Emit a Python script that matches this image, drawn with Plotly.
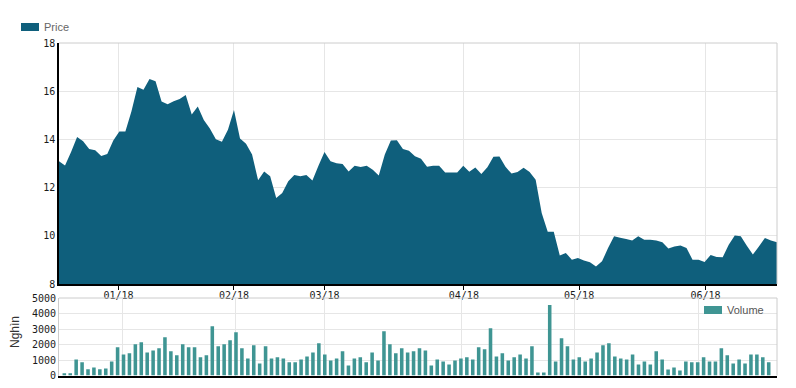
import plotly.graph_objects as go

# ---- data ----
price = [13.09, 12.92, 13.48, 14.10, 13.92, 13.60, 13.55, 13.31, 13.39, 13.95,
         14.33, 14.33, 15.16, 16.17, 16.06, 16.51, 16.41, 15.57, 15.46, 15.58,
         15.68, 15.84, 15.03, 15.37, 14.80, 14.45, 14.01, 13.90, 14.40, 15.22,
         14.04, 13.82, 13.37, 12.31, 12.67, 12.47, 11.57, 11.78, 12.26, 12.52,
         12.47, 12.52, 12.29, 12.91, 13.48, 13.09, 13.01, 12.98, 12.67, 12.91,
         12.85, 12.91, 12.74, 12.50, 13.37, 13.95, 13.96, 13.60, 13.53, 13.30,
         13.20, 12.87, 12.91, 12.91, 12.63, 12.63, 12.63, 12.91, 12.66, 12.83,
         12.56, 12.84, 13.28, 13.29, 12.86, 12.58, 12.65, 12.82, 12.65, 12.33,
         10.95, 10.17, 10.17, 9.18, 9.29, 9.01, 9.08, 8.98, 8.90, 8.73,
         8.94, 9.49, 9.98, 9.92, 9.87, 9.81, 9.98, 9.84, 9.84, 9.80,
         9.73, 9.47, 9.56, 9.60, 9.49, 9.01, 9.01, 8.91, 9.20, 9.12,
         9.11, 9.63, 10.01, 9.98, 9.59, 9.22, 9.56, 9.91, 9.81, 9.73]

volume = [150, 150, 1040, 850, 400, 520, 400, 450, 900, 1820,
          1360, 1430, 2010, 2140, 1490, 1620, 1750, 2470, 1560, 1300,
          2010, 1820, 1820, 1170, 1300, 3180, 1880, 2010, 2270, 2790,
          1750, 1100, 1950, 780, 1880, 1100, 1170, 1100, 850, 850,
          1040, 1230, 1490, 2080, 1360, 970, 1100, 1560, 650, 1100,
          1170, 850, 1490, 970, 2860, 2010, 1430, 1750, 1490, 1560,
          1750, 1620, 650, 1040, 910, 710, 970, 1100, 1170, 1040,
          1820, 1690, 3050, 1230, 1430, 970, 1170, 1360, 1100, 1880,
          190, 190, 4550, 910, 2400, 1880, 1040, 1170, 910, 1100,
          1490, 1950, 2080, 1230, 1100, 1040, 1360, 710, 910, 710,
          1560, 1040, 390, 520, 325, 910, 850, 850, 1170, 910,
          910, 1750, 1300, 780, 1040, 780, 1360, 1360, 1170, 850]

day_index = list(range(len(price)))
month_tick_pos = [9.85, 29.0, 44.0, 67.1, 86.2, 107.15]
month_tick_labels = ["01/18", "02/18", "03/18", "04/18", "05/18", "06/18"]

PRICE_COLOR = "#0f5f7c"
VOL_COLOR = "#3f9593"
GRID = "#e6e6e6"

W, H = 796, 388
def px(x):
    return x / W
def py(y):
    return 1 - y / H

fig = go.Figure()
fig.add_trace(go.Scatter(x=day_index, y=price, mode="none", fill="tozeroy",
                         fillcolor=PRICE_COLOR, name="Price",
                         xaxis="x", yaxis="y", showlegend=False,
                         hoverinfo="x+y"))
fig.add_trace(go.Bar(x=day_index, y=volume, name="Volume", width=0.6,
                     marker=dict(color=VOL_COLOR, line=dict(width=0)),
                     xaxis="x2", yaxis="y2", showlegend=False))

mono = dict(family="DejaVu Sans Mono, Liberation Mono, monospace", size=10, color="#1a1a1a")

fig.update_layout(
    width=W, height=H,
    margin=dict(l=0, r=0, t=0, b=0, autoexpand=False),
    paper_bgcolor="white", plot_bgcolor="white",
    showlegend=False,
    xaxis=dict(domain=[px(59), px(777)], anchor="y", range=[0, 119], automargin=False,
               tickmode="array", tickvals=month_tick_pos, ticktext=month_tick_labels,
               showgrid=True, gridcolor=GRID, gridwidth=1,
               showline=True, linecolor="black", linewidth=1.5,
               ticks="outside", ticklen=4, tickcolor="black", ticklabelstandoff=-3,
               tickfont=mono, zeroline=False, fixedrange=True),
    yaxis=dict(domain=[py(284), py(43)], anchor="x", range=[8, 18], automargin=False,
               tickmode="array", tickvals=[8, 10, 12, 14, 16, 18],
               showgrid=True, gridcolor=GRID, gridwidth=1,
               showline=True, linecolor="black", linewidth=1.5,
               ticks="", tickfont=mono, zeroline=False, fixedrange=True),
    xaxis2=dict(domain=[px(59), px(777)], anchor="y2", range=[-0.9, 120.4], automargin=False,
                tickmode="array", tickvals=month_tick_pos, showticklabels=False,
                showgrid=True, gridcolor=GRID, gridwidth=1,
                showline=True, linecolor="black", linewidth=1.5,
                ticks="", zeroline=False, fixedrange=True),
    yaxis2=dict(domain=[py(375.5), py(298)], anchor="x2", range=[0, 5000], automargin=False,
                tickmode="array", tickvals=[0, 1000, 2000, 3000, 4000, 5000],
                showgrid=True, gridcolor=GRID, gridwidth=1,
                showline=True, linecolor="#cccccc", linewidth=1,
                ticks="", tickfont=mono, zeroline=False, fixedrange=True),
)

shapes = [
    dict(type="line", xref="paper", yref="paper", x0=px(59), x1=px(777), y0=py(43), y1=py(43),
         line=dict(color="#cccccc", width=1)),
    dict(type="line", xref="paper", yref="paper", x0=px(777), x1=px(777), y0=py(43), y1=py(284),
         line=dict(color="#cccccc", width=1)),
    dict(type="line", xref="paper", yref="paper", x0=px(59), x1=px(777), y0=py(298), y1=py(298),
         line=dict(color="#cccccc", width=1)),
    dict(type="line", xref="paper", yref="paper", x0=px(777), x1=px(777), y0=py(298), y1=py(375.5),
         line=dict(color="#cccccc", width=1)),
    dict(type="rect", xref="paper", yref="paper", x0=px(21), x1=px(39), y0=py(31), y1=py(23),
         fillcolor=PRICE_COLOR, line=dict(width=0)),
    dict(type="rect", xref="paper", yref="paper", x0=px(704), x1=px(722), y0=py(314), y1=py(306),
         fillcolor=VOL_COLOR, line=dict(width=0)),
]
fig.update_layout(shapes=shapes)

sans = "Liberation Sans, Arial, sans-serif"
fig.add_annotation(x=px(42), y=py(27), xref="paper", yref="paper", text="Price",
                   showarrow=False, xanchor="left", yanchor="middle",
                   font=dict(family=sans, size=11, color="#666"))
fig.add_annotation(x=px(725), y=py(310), xref="paper", yref="paper", text="Volume",
                   showarrow=False, xanchor="left", yanchor="middle",
                   font=dict(family=sans, size=11, color="#555"))
fig.add_annotation(x=px(15), y=py(332), xref="paper", yref="paper", text="Nghìn",
                   showarrow=False, textangle=-90, xanchor="center", yanchor="middle",
                   font=dict(family=sans, size=12, color="#333"))

fig.write_html("out.html", config={"displayModeBar": False},
               post_script="document.body.style.margin='0';document.body.style.overflow='hidden';")
